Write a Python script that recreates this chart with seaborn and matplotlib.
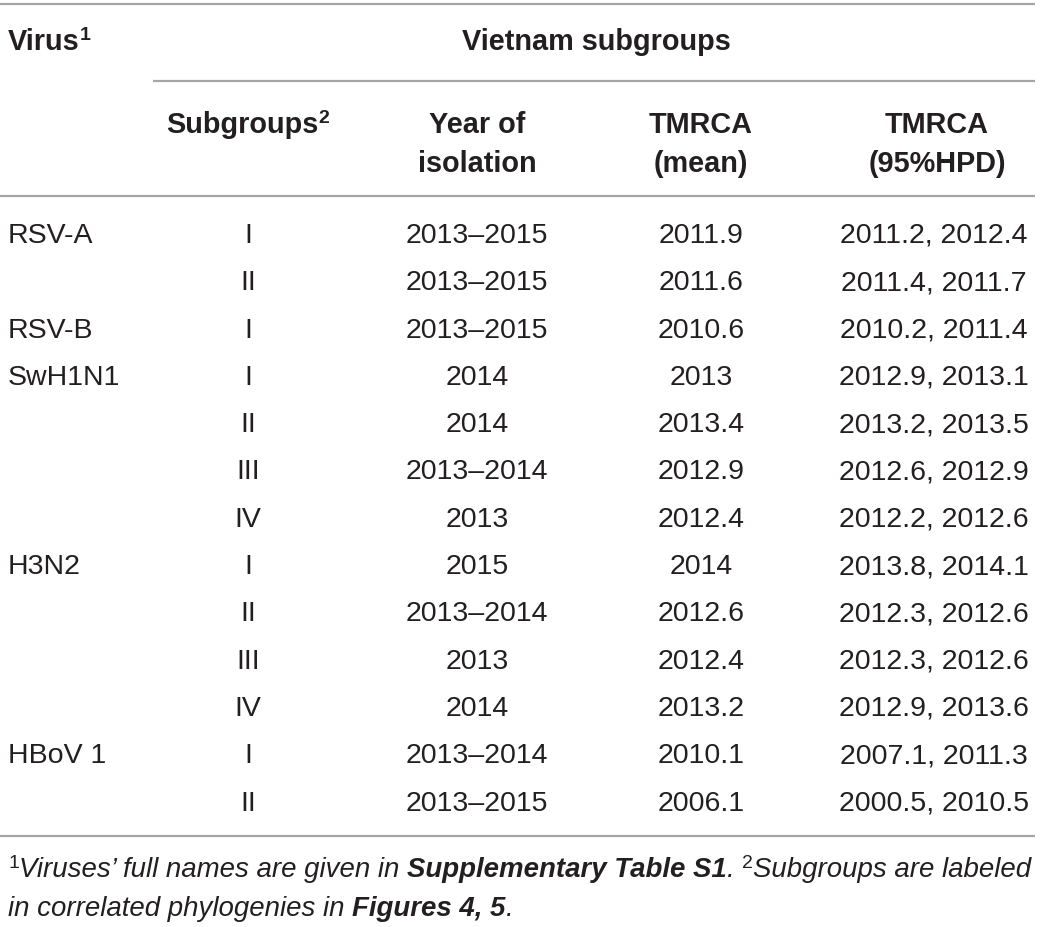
import matplotlib
matplotlib.use('Agg')
import matplotlib.pyplot as plt
import seaborn as sns
import pandas as pd

sns.set_theme(style='white')
plt.rcParams['font.family'] = ['Liberation Sans', 'DejaVu Sans']

# table contents
viruses = ['RSV-A', '', 'RSV-B', 'SwH1N1', '', '', '', 'H3N2', '', '', '', 'HBoV 1', '']
subgroups = ['I', 'II', 'I', 'I', 'II', 'III', 'IV', 'I', 'II', 'III', 'IV', 'I', 'II']
years = ['2013–2015', '2013–2015', '2013–2015', '2014', '2014', '2013–2014', '2013',
         '2015', '2013–2014', '2013', '2014', '2013–2014', '2013–2015']
tmrca_mean = ['2011.9', '2011.6', '2010.6', '2013', '2013.4', '2012.9', '2012.4',
              '2014', '2012.6', '2012.4', '2013.2', '2010.1', '2006.1']
tmrca_hpd = ['2011.2, 2012.4', '2011.4, 2011.7', '2010.2, 2011.4', '2012.9, 2013.1',
             '2013.2, 2013.5', '2012.6, 2012.9', '2012.2, 2012.6', '2013.8, 2014.1',
             '2012.3, 2012.6', '2012.3, 2012.6', '2012.9, 2013.6', '2007.1, 2011.3',
             '2000.5, 2010.5']

df = pd.DataFrame({'Virus': viruses, 'Subgroups': subgroups, 'Year': years,
                   'Mean': tmrca_mean, 'HPD': tmrca_hpd})

TXT = '#231f20'
RULE = '#a6a6a6'

fig = plt.figure(figsize=(10.41, 9.28), dpi=100)
ax = fig.add_axes([0, 0, 1, 1])
ax.set_xlim(0, 1041)
ax.set_ylim(928, 0)
ax.axis('off')
renderer = fig.canvas.get_renderer()


def runs(x, y, parts, ha='left'):
    # parts: list of (text, size, weight, style, dy)
    objs = []
    cur = x
    for s, size, weight, style, dy in parts:
        t = ax.text(cur, y - dy, s, fontsize=size, fontweight=weight, fontstyle=style,
                    color=TXT, ha='left', va='baseline')
        w = t.get_window_extent(renderer).width
        objs.append(t)
        cur += w
    if ha == 'center':
        shift = (cur - x) / 2
        for t in objs:
            px, py = t.get_position()
            t.set_position((px - shift, py))
    return objs


# rules
ax.hlines([5, 197, 837], 0, 1035, color=RULE, lw=1.6)
ax.hlines([82], 153, 1035, color=RULE, lw=1.6)

# headers
hs = 20.8
runs(8, 50, [('Virus', hs, 'bold', 'normal', 0), ('1', 14, 'bold', 'normal', 10)])
ax.text(596, 50, 'Vietnam subgroups', fontsize=hs, fontweight='bold', color=TXT,
        ha='center', va='baseline')
runs(248, 133, [('Subgroups', hs, 'bold', 'normal', 0), ('2', 14, 'bold', 'normal', 10)],
     ha='center')
cols = [(477, 'Year of', 'isolation'), (701, 'TMRCA', '(mean)'), (937, 'TMRCA', '(95%HPD)')]
for cx, l1, l2 in cols:
    ax.text(cx, 133, l1, fontsize=hs, fontweight='bold', color=TXT, ha='center', va='baseline')
    ax.text(cx, 172, l2, fontsize=hs, fontweight='bold', color=TXT, ha='center', va='baseline')

# body rows
bs = 20.5
base0, step = 243, 47.3
for i, row in df.iterrows():
    yb = base0 + step * i
    ax.text(8, yb, row['Virus'], fontsize=bs, color=TXT, ha='left', va='baseline')
    ax.text(248, yb, row['Subgroups'], fontsize=bs, color=TXT, ha='center', va='baseline')
    ax.text(477, yb, row['Year'], fontsize=bs, color=TXT, ha='center', va='baseline')
    ax.text(701, yb, row['Mean'], fontsize=bs, color=TXT, ha='center', va='baseline')
    ax.text(934, yb, row['HPD'], fontsize=bs, color=TXT, ha='center', va='baseline')

# footnotes
fs = 19.9
runs(8, 877, [('1', 14, 'normal', 'normal', 9),
              ('Viruses\u2019 full names are given in ', fs, 'normal', 'italic', 0),
              ('Supplementary Table S1', fs, 'bold', 'italic', 0),
              ('. ', fs, 'normal', 'italic', 0),
              ('2', 14, 'normal', 'normal', 9),
              ('Subgroups are labeled', fs, 'normal', 'italic', 0)])
runs(8, 916, [('in correlated phylogenies in ', fs, 'normal', 'italic', 0),
              ('Figures 4, 5', fs, 'bold', 'italic', 0),
              ('.', fs, 'normal', 'italic', 0)])

fig.savefig('out.png', dpi=100)
